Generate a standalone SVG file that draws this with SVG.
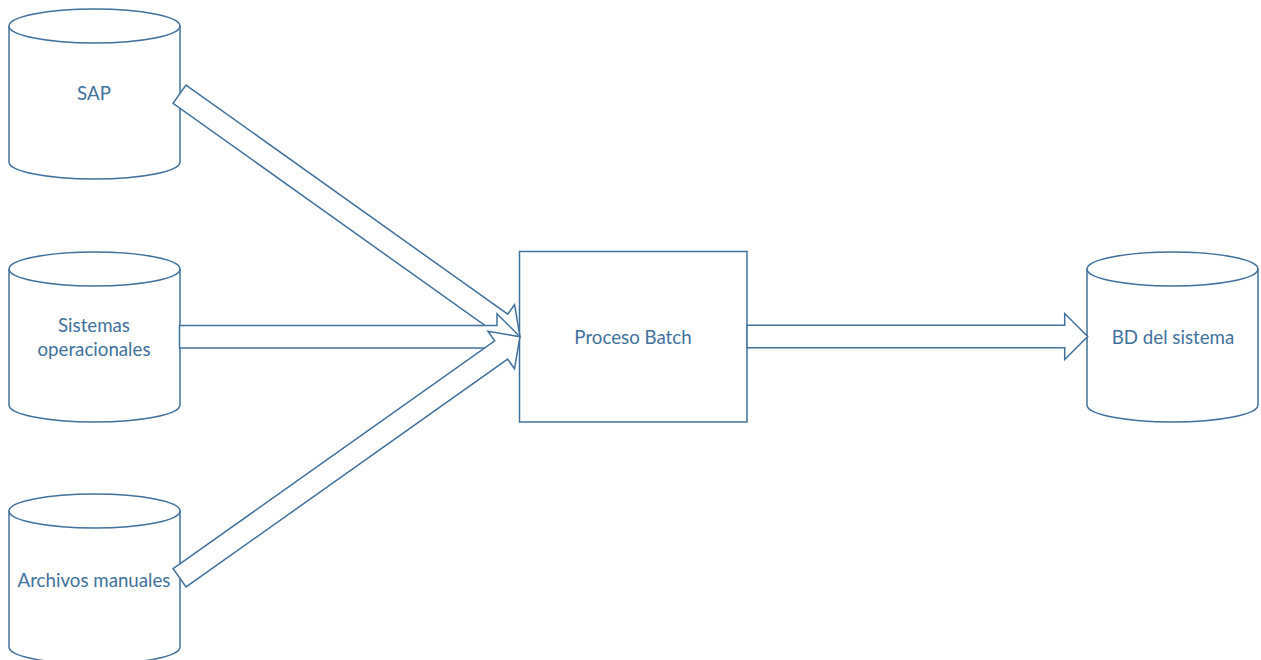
<svg xmlns="http://www.w3.org/2000/svg" width="1261" height="660" viewBox="0 0 1261 660">
  <style>
    .shape { fill: #ffffff; stroke: #41719C; stroke-width: 1.5; stroke-linejoin: miter; }
    .lbl { font-family: Lato, "Open Sans", "Liberation Sans", sans-serif; font-size: 18.7px; fill: #41719C; text-anchor: middle; }
  </style>
  <defs>
    <!-- cylinder: rx 85.5, ry 17, body height 136, origin at centre of top ellipse -->
    <g id="cyl">
      <path class="shape" d="M-85.5,0 A85.5,17 0 0,1 85.5,0 V136 A85.5,17 0 0,1 -85.5,136 Z"/>
      <path class="shape" style="fill:none" d="M-85.5,0 A85.5,17 0 0,0 85.5,0"/>
    </g>
  </defs>
  <rect width="1261" height="660" fill="#ffffff"/>

  <g id="node-sap">
    <use href="#cyl" x="94.5" y="26"/>
    <text class="lbl" x="94" y="100">SAP</text>
  </g>
  <g id="node-sistemas">
    <use href="#cyl" x="94.5" y="269"/>
    <text class="lbl" x="94" y="332">Sistemas</text>
    <text class="lbl" x="94" y="356">operacionales</text>
  </g>
  <g id="node-archivos">
    <use href="#cyl" x="94.5" y="511"/>
    <text class="lbl" x="94" y="587">Archivos manuales</text>
  </g>
  <g id="node-batch">
    <rect class="shape" x="519.5" y="251.5" width="227.5" height="170.5"/>
    <text class="lbl" x="633" y="344">Proceso Batch</text>
  </g>
  <g id="node-bd">
    <use href="#cyl" x="1172.5" y="269"/>
    <text class="lbl" x="1173" y="344">BD del sistema</text>
  </g>

  <!-- block arrows: shaft half-width 11.2, head half-width 23, head length 23 -->
  <g id="connectors">
    <path class="shape" transform="translate(179.5,94.2) rotate(35.46)" d="M0,-11.2 H395 V-23 L418,0 L395,23 V11.2 H0 Z"/>
    <path class="shape" transform="translate(179.5,336.7)" d="M0,-11.2 H317.5 V-23 L340.5,0 L317.5,23 V11.2 H0 Z"/>
    <path class="shape" transform="translate(179.6,577.8) rotate(-35.31)" d="M0,-11.2 H394.1 V-23 L417.1,0 L394.1,23 V11.2 H0 Z"/>
    <path class="shape" transform="translate(747,336.5)" d="M0,-11.2 H317.7 V-23 L340.7,0 L317.7,23 V11.2 H0 Z"/>
  </g>
</svg>
